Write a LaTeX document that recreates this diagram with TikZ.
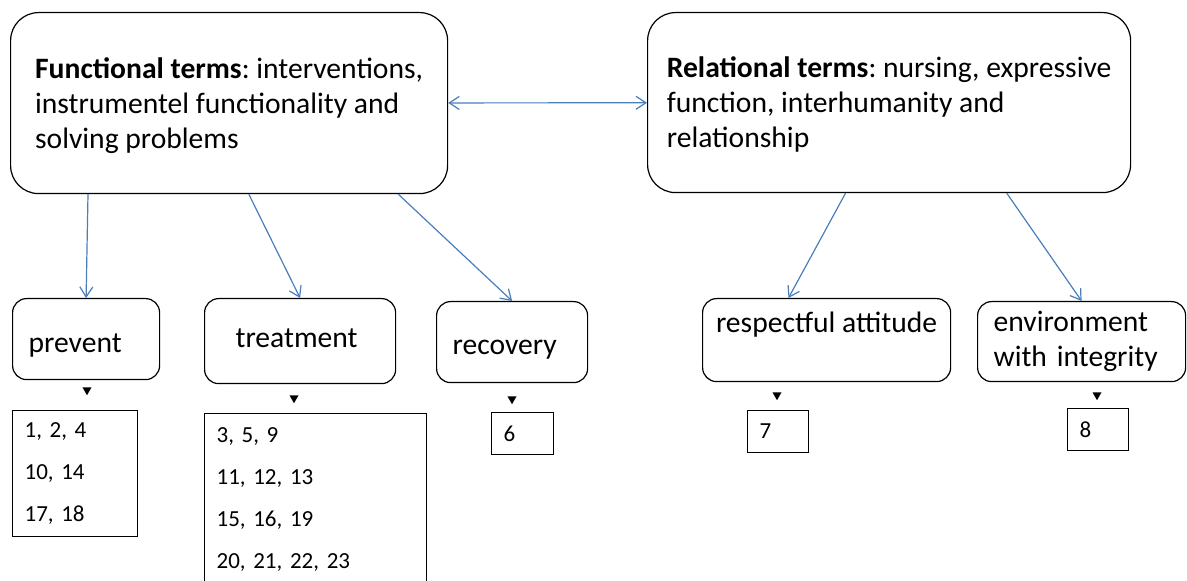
\documentclass[tikz,border=0pt]{standalone}
\usepackage{fontspec}
\setmainfont{Carlito}
\frenchspacing
\usetikzlibrary{arrows.meta,calc,shapes.geometric}

\definecolor{linkblue}{RGB}{74,126,187}

\tikzset{
  termbox/.style={draw,rounded corners=14pt,line width=0.6pt,align=left,anchor=north west,
    text depth=0pt,font=\fontsize{14.8}{17.5}\selectfont},
  catbox/.style={draw,rounded corners=7pt,line width=0.6pt,align=left,anchor=north west,
    inner xsep=8pt,font=\fontsize{14.8}{17.5}\selectfont},
  numbox/.style={draw,line width=0.6pt,align=left,anchor=north west,inner xsep=6pt,
    font=\fontsize{11.5}{21}\selectfont},
  marker/.style={regular polygon,regular polygon sides=3,shape border rotate=180,
    fill=black,inner sep=0pt,minimum size=5.2pt},
  link/.style={draw=linkblue,line width=0.6pt}
}

\begin{document}
\begin{tikzpicture}
  [x=0.5pt,y=-0.5pt,>={Straight Barb[length=5pt,width=6.5pt]}]
  \path[use as bounding box,clip] (0,0) rectangle (1187,581);

  % top level
  \node[termbox,minimum width=218.5pt,minimum height=90.5pt] (func) at (10,12)
    {\textbf{Functional terms}: interventions,\\instrumentel functionality and\\solving problems};
  \node[termbox,minimum width=241.5pt,minimum height=90pt] (rel) at (647,12)
    {\textbf{Relational terms}: nursing, expressive\\function, interhumanity and\\relationship};

  % categories
  \node[catbox,text width=57.5pt,minimum height=40.5pt,text height=13pt,text depth=0pt] (prev) at (12,298) {prevent};
  \node[catbox,inner xsep=15.5pt,text width=64.5pt,minimum height=42.5pt,text height=6.5pt,text depth=0pt] (treat) at (204,298) {treatment};
  \node[catbox,text width=59.5pt,minimum height=40.5pt,text height=12.5pt,text depth=0pt] (recov) at (436,301) {recovery};
  \node[catbox,inner xsep=4pt,minimum width=124pt,minimum height=41.5pt] (resp) at (702,298) {respectful attitude\\\mbox{}};
  \node[catbox,text width=88pt,minimum height=40pt] (env) at (977,301) {environment\\with integrity};

  % markers
  \node[marker] (mprev) at (87,390) {};
  \node[marker] (mtreat) at (294,398) {};
  \node[marker] (mrecov) at (512,399) {};
  \node[marker] (mresp) at (777,395) {};
  \node[marker] (menv) at (1097,395) {};

  % numbers
  \node[numbox,text width=50.5pt,minimum height=63pt] (L1) at (12,410) {1, 2, 4\\10, 14\\17, 18};
  \node[numbox,text width=99pt,minimum height=86pt] (L2) at (204,413) {3, 5, 9\\11, 12, 13\\15, 16, 19\\20, 21, 22, 23};
  \node[numbox,text width=19pt,minimum height=21pt] (L6) at (491,412) {6};
  \node[numbox,text width=18.5pt,minimum height=21pt] (L7) at (747,410) {7};
  \node[numbox,text width=18.5pt,minimum height=21pt] (L8) at (1067,408) {8};

  \draw[link,<->] (func) -- (rel);

  \draw[link,->] ($(func.south west)!0.178!(func.south east)$) -- (prev.north);
  \draw[link,->] ($(func.south west)!0.545!(func.south east)$) -- (treat.north);
  \draw[link,->] ($(func.south west)!0.886!(func.south east)$) -- (recov.north);

  \draw[link,->] ($(rel.south west)!0.41!(rel.south east)$) -- ($(resp.north west)!0.347!(resp.north east)$);
  \draw[link,->] ($(rel.south west)!0.743!(rel.south east)$) -- (env.north);

\end{tikzpicture}
\end{document}
